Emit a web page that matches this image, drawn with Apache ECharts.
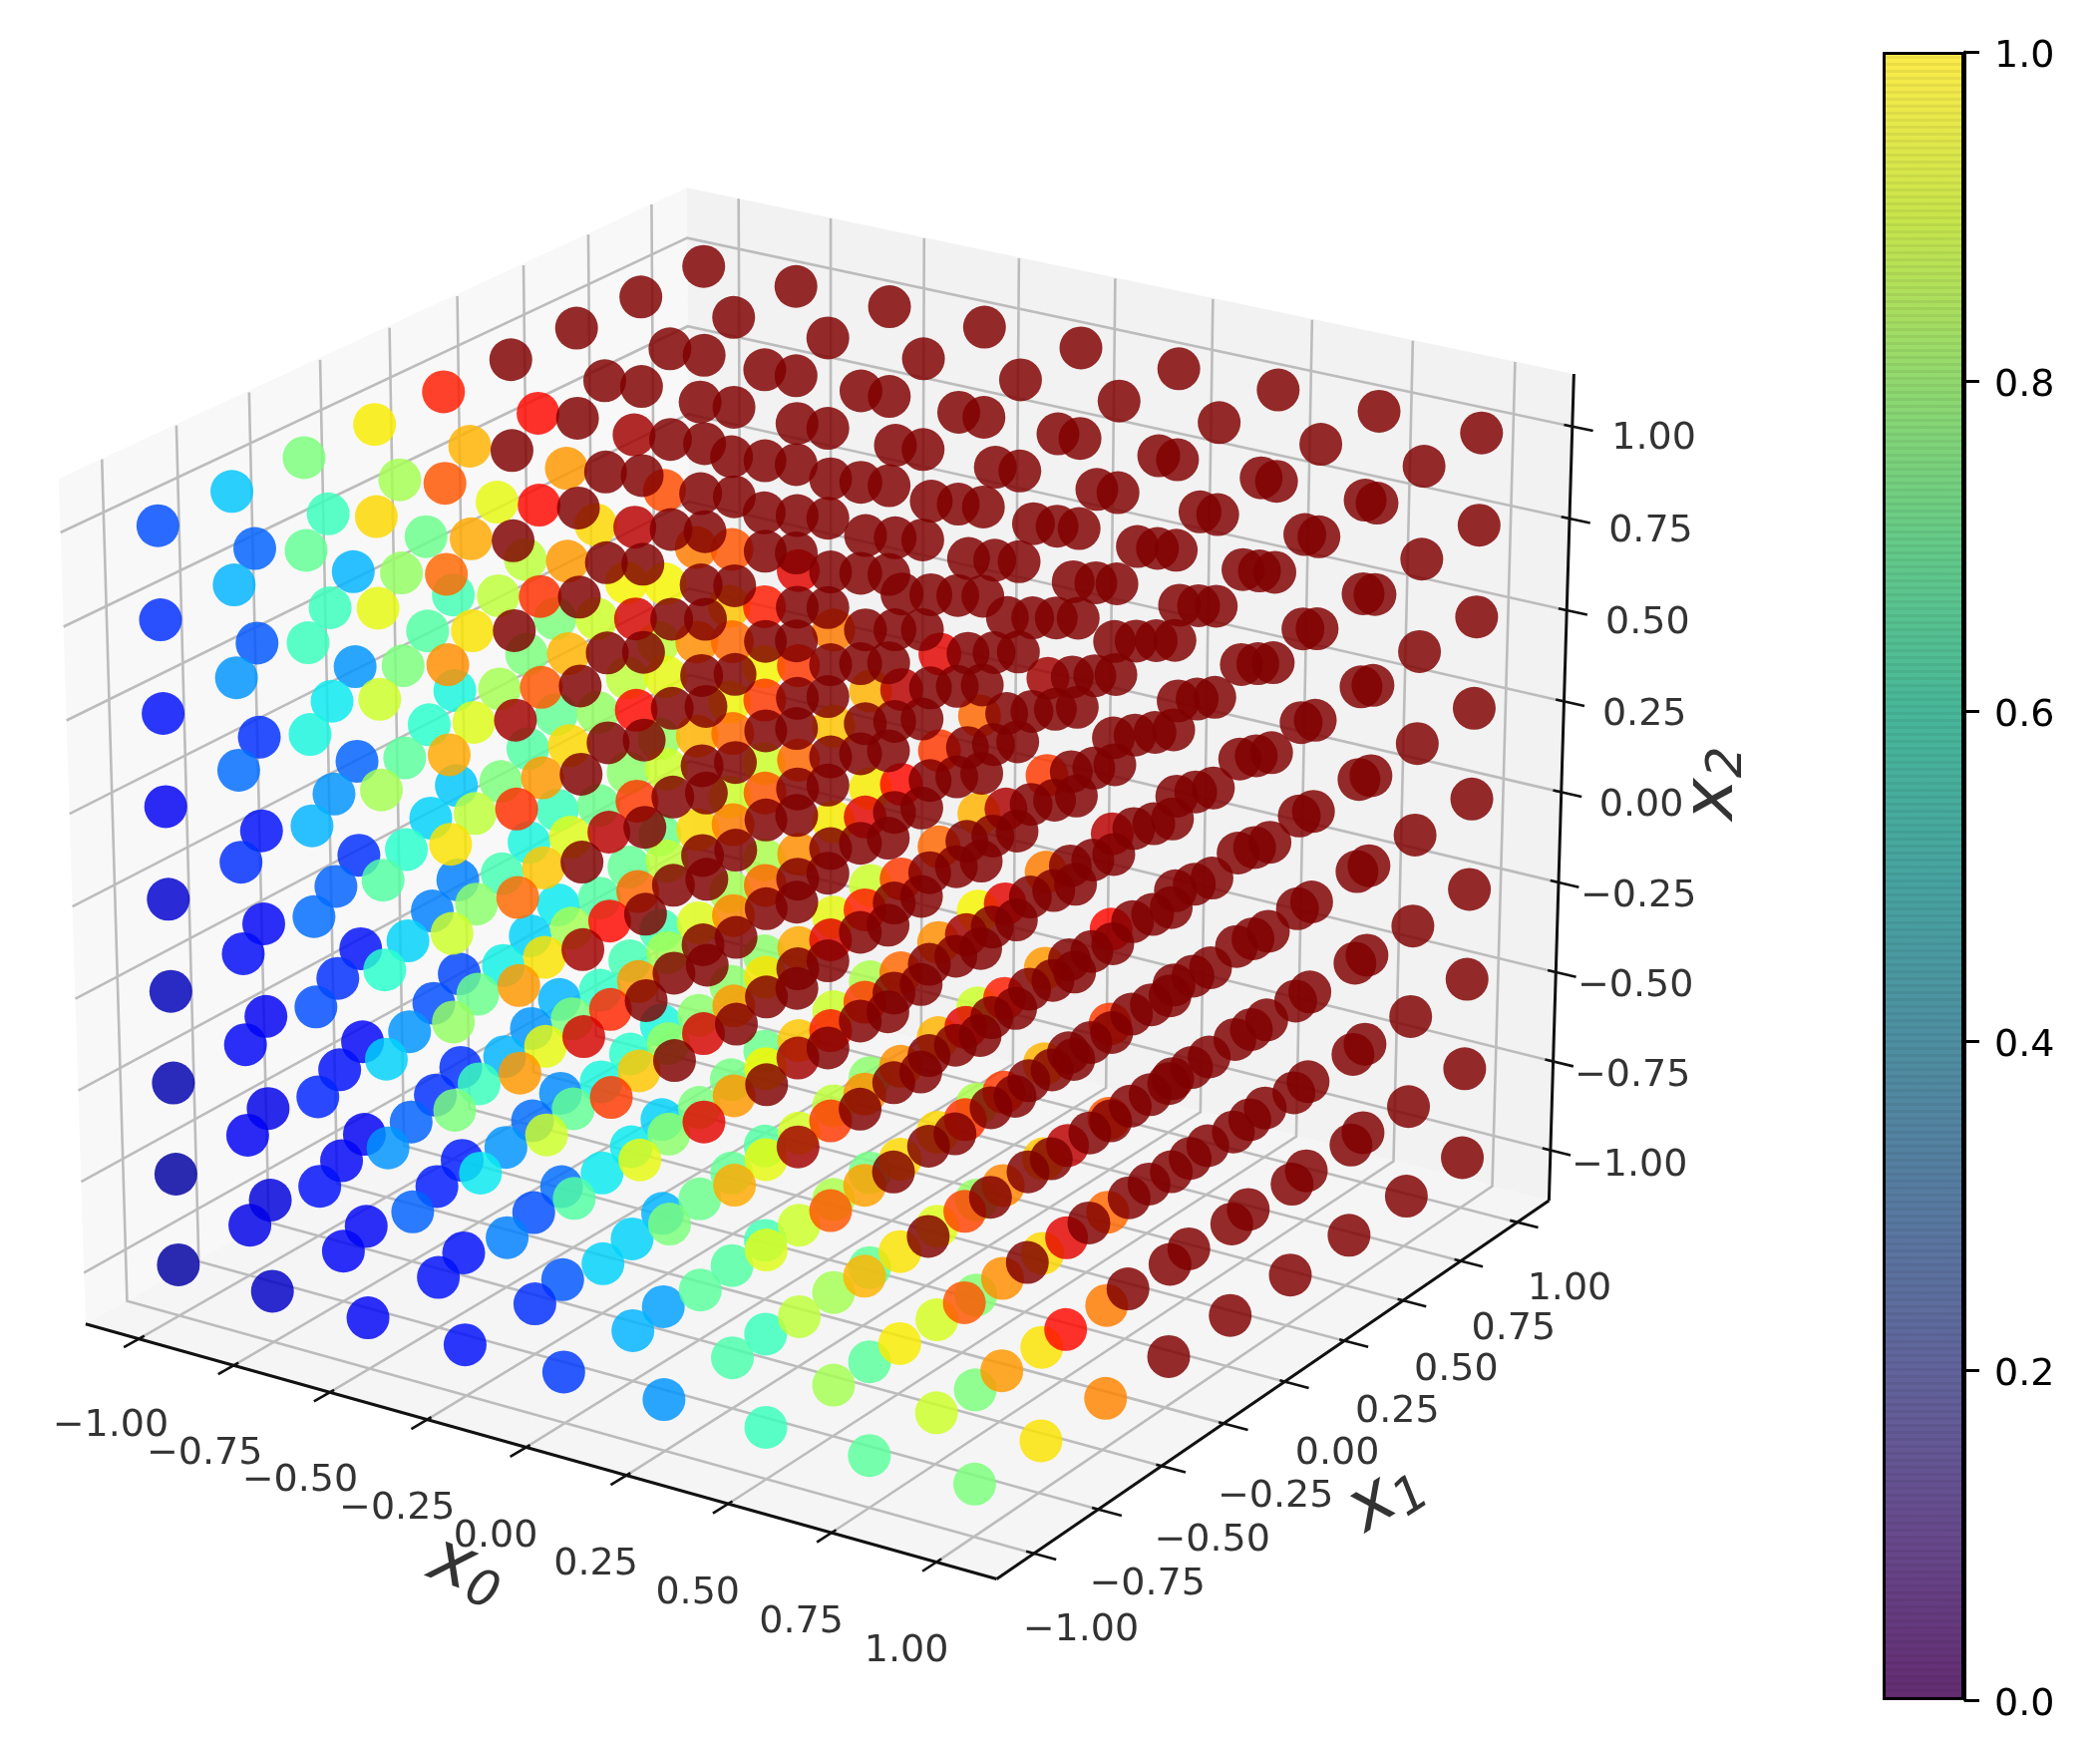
<!DOCTYPE html>
<html>
<head>
<meta charset="utf-8">
<style>
  html, body { margin: 0; padding: 0; background: #fff; }
  #chart { width: 2106px; height: 1753px; }
</style>
<script src="https://cdn.jsdelivr.net/npm/echarts@6/dist/echarts.min.js"></script>
</head>
<body>
<div id="chart"></div>
<script>
// grid positions along each input axis
const tickValues = [-1, -0.75, -0.5, -0.25, 0, 0.25, 0.5, 0.75, 1];
const tickLabels = ['\u22121.00', '\u22120.75', '\u22120.50', '\u22120.25', '0.00', '0.25', '0.50', '0.75', '1.00'];

// colour value per point, one table per x0 level
// rows run along x2 (-1 -> 1), columns along x1 (-1 -> 1)
const valuesX0m100 = [
  [.03,.09,.13,.27,.50,.75,.93,1,1],
  [.03,.10,.16,.33,.53,.75,.97,1,1],
  [.04,.11,.20,.40,.60,.80,1,1,1],
  [.05,.12,.23,.45,.67,.86,1,1,1],
  [.07,.17,.30,.55,.73,.97,1,1,1],
  [.10,.23,.38,.60,.76,1,1,1,1],
  [.13,.27,.42,.63,.80,1,1,1,1],
  [.17,.30,.47,.68,.82,1,1,1,1],
  [.20,.32,.50,.66,.88,1,1,1,1]
];
const valuesX0m075 = [
  [.06,.11,.22,.36,.60,.85,1,1,1],
  [.08,.11,.22,.42,.63,.87,1,1,1],
  [.09,.13,.27,.48,.67,.90,1,1,1],
  [.10,.17,.33,.52,.70,.95,1,1,1],
  [.11,.22,.40,.58,.75,1,1,1,1],
  [.13,.27,.46,.62,.82,1,1,1,1],
  [.17,.36,.50,.67,.86,1,1,1,1],
  [.21,.42,.53,.73,.90,1,1,1,1],
  [.22,.42,.55,.72,.90,1,1,1,1]
];
const valuesX0m050 = [
  [.11,.13,.25,.45,.63,.92,1,1,1],
  [.11,.15,.27,.47,.70,.93,1,1,1],
  [.10,.17,.30,.50,.75,1,1,1,1],
  [.11,.20,.37,.55,.80,1,1,1,1],
  [.13,.25,.43,.62,.85,1,1,1,1],
  [.17,.33,.50,.68,.90,1,1,1,1],
  [.22,.40,.55,.72,.93,1,1,1,1],
  [.27,.45,.58,.75,.95,1,1,1,1],
  [.30,.48,.63,.75,.97,1,1,1,1]
];
const valuesX0m025 = [
  [.13,.17,.33,.50,.73,.97,1,1,1],
  [.13,.20,.36,.52,.75,.97,1,1,1],
  [.15,.23,.38,.53,.75,1,1,1,1],
  [.17,.27,.41,.55,.77,1,1,1,1],
  [.19,.33,.45,.58,.78,1,1,1,1],
  [.25,.38,.48,.60,.80,1,1,1,1],
  [.32,.45,.53,.63,.80,1,1,1,1],
  [.38,.50,.60,.65,.82,1,1,1,1],
  [.43,.58,.68,.83,1,1,1,1,1]
];
const valuesX0p000 = [
  [.18,.30,.46,.62,.82,1,1,1,1],
  [.21,.33,.48,.63,.85,1,1,1,1],
  [.23,.36,.50,.65,.88,1,1,1,1],
  [.26,.40,.52,.67,.92,1,1,1,1],
  [.30,.43,.62,.80,1,1,1,1,1],
  [.36,.47,.68,.82,1,1,1,1,1],
  [.42,.52,.72,.85,1,1,1,1,1],
  [.47,.58,.76,.88,1,1,1,1,1],
  [.50,.65,.78,1,1,1,1,1,1]
];
const valuesX0p025 = [
  [.27,.44,.58,.72,1,1,1,1,1],
  [.28,.45,.60,.74,1,1,1,1,1],
  [.30,.47,.61,.76,1,1,1,1,1],
  [.33,.49,.70,.85,1,1,1,1,1],
  [.38,.52,.73,.88,1,1,1,1,1],
  [.43,.55,.76,.92,1,1,1,1,1],
  [.48,.60,.80,1,1,1,1,1,1],
  [.53,.64,.85,1,1,1,1,1,1],
  [.58,.70,.92,1,1,1,1,1,1]
];
const valuesX0p050 = [
  [.42,.55,.66,.82,1,1,1,1,1],
  [.42,.55,.67,.84,1,1,1,1,1],
  [.43,.56,.68,.86,1,1,1,1,1],
  [.45,.58,.76,.92,1,1,1,1,1],
  [.48,.60,.80,.97,1,1,1,1,1],
  [.52,.63,.85,1,1,1,1,1,1],
  [.56,.66,.90,1,1,1,1,1,1],
  [.60,.70,.95,1,1,1,1,1,1],
  [.65,.78,1,1,1,1,1,1,1]
];
const valuesX0p075 = [
  [.46,.60,.75,.90,1,1,1,1,1],
  [.46,.61,.76,.92,1,1,1,1,1],
  [.47,.62,.77,.95,1,1,1,1,1],
  [.49,.68,.85,1,1,1,1,1,1],
  [.52,.72,.88,1,1,1,1,1,1],
  [.56,.76,.92,1,1,1,1,1,1],
  [.60,.80,.96,1,1,1,1,1,1],
  [.66,.85,1,1,1,1,1,1,1],
  [.72,.92,1,1,1,1,1,1,1]
];
const valuesX0p100 = [
  [.50,.67,.77,1,1,1,1,1,1],
  [.50,.67,.78,1,1,1,1,1,1],
  [.51,.68,.80,1,1,1,1,1,1],
  [.53,.70,.82,1,1,1,1,1,1],
  [.56,.72,.85,1,1,1,1,1,1],
  [.60,.75,.90,1,1,1,1,1,1],
  [.65,.78,.95,1,1,1,1,1,1],
  [.72,.85,1,1,1,1,1,1,1],
  [.80,.97,1,1,1,1,1,1,1]
];
const valueTables = [valuesX0m100, valuesX0m075, valuesX0m050, valuesX0m025, valuesX0p000,
  valuesX0p025, valuesX0p050, valuesX0p075, valuesX0p100];

// jet for the points, viridis for the colorbar
const jetColors = ['#000080', '#0000b9', '#0000f3', '#001aff', '#004dff', '#0080ff', '#00b3ff',
  '#00e6f7', '#29ffcd', '#52ffa4', '#7bff7b', '#a4ff52', '#cdff29', '#f7f500', '#ffc600',
  '#ff9700', '#ff6800', '#ff3900', '#ff0900', '#b90000', '#800000'];
const viridisColors = ['68,1,84', '72,36,117', '65,68,135', '53,95,141', '42,120,142', '33,145,140',
  '34,168,132', '68,191,112', '122,209,81', '189,223,38', '253,231,37'];

// camera of the 3d box, fitted to the reference
const elev = 19.7 * Math.PI / 180;
const azim = -56.7 * Math.PI / 180;
const distX = 9;
const distY = 13;
const boxXY = 0.541;
const boxZ = 0.406;
const scaleX = 7850;
const scaleY = 12480;
const originX = 833;
const originY = 851;
const L = 1.142; // half size of the box in data units

function depthOf(x0, x1, x2) {
  return Math.cos(elev) * Math.cos(azim) * x0 * boxXY + Math.cos(elev) * Math.sin(azim) * x1 * boxXY + Math.sin(elev) * x2 * boxZ;
}
function project(x0, x1, x2) {
  const rx = x0 * boxXY, ry = x1 * boxXY, rz = x2 * boxZ;
  const u = -Math.sin(azim) * rx + Math.cos(azim) * ry;
  const v = -Math.sin(elev) * Math.cos(azim) * rx - Math.sin(elev) * Math.sin(azim) * ry + Math.cos(elev) * rz;
  const depth = depthOf(x0, x1, x2);
  return [originX + scaleX * u / (distX - depth), originY - scaleY * v / (distY - depth)];
}

// points: the reference paints the far ones last, over the near ones
let points = [];
tickValues.forEach((x0, i) => {
  tickValues.forEach((x2, k) => {
    tickValues.forEach((x1, j) => {
      const p = project(x0, x1, x2);
      points.push({ depth: depthOf(x0, x1, x2), value: [p[0], p[1], valueTables[i][k][j]] });
    });
  });
});
points.sort((a, b) => b.depth - a.depth);

const panes = [
  { color: '#f8f8f8', corners: [[-L, -L, -L], [-L, L, -L], [-L, L, L], [-L, -L, L]] },
  { color: '#f2f2f2', corners: [[-L, L, -L], [L, L, -L], [L, L, L], [-L, L, L]] },
  { color: '#f5f5f5', corners: [[-L, -L, -L], [L, -L, -L], [L, L, -L], [-L, L, -L]] }
];

function toLine(path) {
  return { coords: path.map(p => project(p[0], p[1], p[2])) };
}
let gridLines = [];
let tickMarks = [];
let tickText = [];
tickValues.forEach((t, i) => {
  gridLines.push(toLine([[t, -L, -L], [t, L, -L], [t, L, L]]));
  gridLines.push(toLine([[-L, t, L], [-L, t, -L], [L, t, -L]]));
  gridLines.push(toLine([[-L, -L, t], [-L, L, t], [L, L, t]]));
  tickMarks.push(toLine([[t, -L + 0.02, -L], [t, -L - 0.05, -L]]));
  tickMarks.push(toLine([[L - 0.02, t, -L], [L + 0.05, t, -L]]));
  tickMarks.push(toLine([[L - 0.02, L, t], [L + 0.05, L, t]]));
  tickText.push({ value: project(t * 0.975 + 0.2, -L - 0.38, -L).concat(tickLabels[i]) });
  tickText.push({ value: project(L + 0.263, t - 0.253, -L).concat(tickLabels[i]) });
  tickText.push({ value: project(L + 0.195, L, t + 0.012).concat(tickLabels[i]) });
});
const spines = [
  toLine([[-L, -L, -L], [L, -L, -L]]),
  toLine([[L, -L, -L], [L, L, -L]]),
  toLine([[L, L, -L], [L, L, L]])
];

function axisTitle(pos, sub, rotate) {
  return {
    value: project(pos[0], pos[1], pos[2]),
    label: {
      show: true,
      position: 'inside',
      rotate: rotate,
      formatter: '{x|x}{s|' + sub + '}',
      rich: {
        x: { fontFamily: 'DejaVu Sans', fontStyle: 'italic', fontSize: 72, color: '#000', lineHeight: 80 },
        s: { fontFamily: 'DejaVu Sans', fontStyle: 'italic', fontSize: 50, color: '#000', padding: [30, 0, 0, 0], lineHeight: 80 }
      }
    }
  };
}

let myChart = echarts.init(document.getElementById('chart'));
myChart.setOption({
  animation: false,
  backgroundColor: '#fff',
  grid: [
    { left: 0, top: 0, width: 2106, height: 1753 },
    { left: 1888, top: 52, width: 82, height: 1653 }
  ],
  xAxis: [
    { type: 'value', min: 0, max: 2106, show: false },
    { type: 'category', gridIndex: 1, data: ['c'], show: false }
  ],
  yAxis: [
    { type: 'value', min: 0, max: 1753, inverse: true, show: false },
    {
      type: 'value', gridIndex: 1, position: 'right', min: 0, max: 1, interval: 0.2,
      splitLine: { show: false },
      axisLine: { show: true, lineStyle: { color: '#000', width: 3 } },
      axisTick: { show: true, length: 15, lineStyle: { color: '#000', width: 3 } },
      axisLabel: { show: true, margin: 30, formatter: v => '{a|' + v.toFixed(1) + '}',
        rich: { a: { color: '#000', fontFamily: 'DejaVu Sans', fontSize: 38, padding: [10, 0, 0, 0] } } }
    }
  ],
  visualMap: {
    show: false, type: 'continuous', min: 0, max: 1, dimension: 2, seriesIndex: 5,
    inRange: { color: jetColors }
  },
  series: [
    {
      type: 'custom', coordinateSystem: 'cartesian2d', silent: true, clip: false,
      data: panes.map((p, i) => i),
      renderItem: (params, api) => {
        const pane = panes[params.dataIndex];
        return {
          type: 'polygon',
          shape: { points: pane.corners.map(c => api.coord(project(c[0], c[1], c[2]))) },
          style: { fill: pane.color }
        };
      }
    },
    { type: 'lines', coordinateSystem: 'cartesian2d', polyline: true, silent: true, data: gridLines,
      lineStyle: { color: '#bcbcbc', width: 2.6, opacity: 1 } },
    { type: 'lines', coordinateSystem: 'cartesian2d', polyline: true, silent: true, data: spines,
      lineStyle: { color: '#111', width: 3, opacity: 1 } },
    { type: 'lines', coordinateSystem: 'cartesian2d', polyline: true, silent: true, data: tickMarks,
      lineStyle: { color: '#111', width: 2.6, opacity: 1 } },
    {
      type: 'scatter', symbolSize: 0, silent: true, data: tickText,
      label: { show: true, position: 'inside', formatter: p => p.value[2], color: '#000',
        fontFamily: 'DejaVu Sans', fontSize: 38 }
    },
    {
      type: 'scatter', symbol: 'circle', symbolSize: 43, silent: true, large: false, progressive: 0,
      data: points.map(p => p.value),
      itemStyle: { opacity: 0.83 }
    },
    {
      type: 'scatter', symbolSize: 0, silent: true,
      data: [
        axisTitle([0.246, -L - 0.543, -L], '0', -20),
        axisTitle([L + 0.45, -0.38, -L], '1', 33),
        axisTitle([L + 0.365, L, 0.118], '2', 90)
      ]
    },
    {
      type: 'bar', xAxisIndex: 1, yAxisIndex: 1, silent: true, data: [1], barWidth: '100%',
      itemStyle: {
        color: new echarts.graphic.LinearGradient(0, 1, 0, 0, viridisColors.map((c, i) => ({
          offset: i / (viridisColors.length - 1), color: 'rgba(' + c + ',0.83)'
        }))),
        borderColor: '#000', borderWidth: 3,
        decal: { symbol: 'rect', symbolSize: 1, dashArrayX: [1, 0], dashArrayY: [3, 4], rotation: 0, color: 'rgba(0,0,0,0.06)' }
      }
    }
  ]
});
</script>
</body>
</html>
